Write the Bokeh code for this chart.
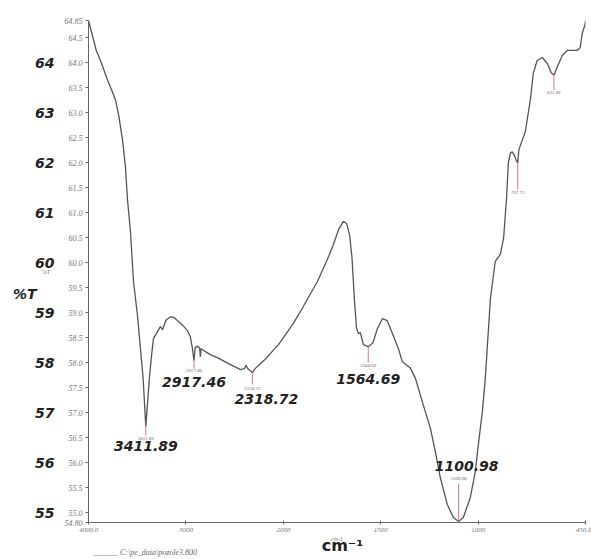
import numpy as np
from bokeh.plotting import figure
from bokeh.models import FixedTicker, LinearAxis, Range1d, CustomJSTickFormatter, ColumnDataSource
from bokeh.embed import file_html
from bokeh.resources import INLINE
from bokeh.core.properties import value

# ---------------- data ----------------
wavenumber = [4000, 3960, 3920, 3877, 3840, 3805, 3760, 3723, 3690, 3651, 3621, 3600,
              3569, 3538, 3497, 3467, 3440, 3411.89, 3375, 3350, 3333, 3292, 3262,
              3240, 3205, 3159, 3120, 3085, 3030, 2985, 2955, 2935, 2917.46, 2905,
              2880, 2860, 2852, 2845, 2800, 2750, 2677, 2600, 2544, 2480, 2441, 2400,
              2385, 2365, 2340, 2318.72, 2290, 2236, 2170, 2103, 2050, 2000, 1950,
              1913, 1870, 1826, 1774, 1745, 1715, 1692, 1675, 1660, 1648, 1636, 1625,
              1615, 1605, 1590, 1564.69, 1540, 1518, 1492, 1467, 1436, 1410, 1390,
              1370, 1350, 1323, 1282, 1246, 1221, 1195, 1159, 1128, 1100.98, 1077,
              1041, 1015, 1000, 979, 964, 938, 913, 887, 870, 855, 846, 835, 826,
              815, 805, 797.72, 792, 774, 759, 733, 718, 698, 672, 646, 625, 611.96,
              595, 569, 544, 492, 477, 467, 451, 450]
transmittance = [64.85, 64.55, 64.25, 64.05, 63.85, 63.66, 63.45, 63.26, 62.95, 62.46, 61.92, 61.27,
                 60.61, 59.62, 58.94, 58.28, 57.70, 56.72, 57.70, 58.20, 58.48, 58.62, 58.72,
                 58.66, 58.85, 58.92, 58.90, 58.84, 58.74, 58.64, 58.52, 58.30, 58.04, 58.30,
                 58.33, 58.30, 58.12, 58.28, 58.22, 58.16, 58.10, 58.02, 57.96, 57.90, 57.86, 57.88,
                 57.95, 57.88, 57.84, 57.80, 57.88, 57.98, 58.10, 58.25, 58.36, 58.50, 58.78,
                 59.02, 59.32, 59.62, 60.07, 60.35, 60.68, 60.83, 60.78, 60.55, 60.10, 59.28, 58.70,
                 58.58, 58.60, 58.36, 58.32, 58.40, 58.68, 58.88, 58.84, 58.54, 58.28, 58.02,
                 57.96, 57.90, 57.69, 57.15, 56.69, 56.23, 55.70, 55.16, 54.90, 54.82, 54.90,
                 55.30, 55.83, 56.35, 57.03, 57.69, 59.28, 60.03, 60.17, 60.50, 61.30, 62.00, 62.20, 62.22,
                 62.15, 62.05, 62.00, 62.26, 62.46, 62.62, 63.26, 63.79, 64.05, 64.11, 63.99, 63.80, 63.76,
                 63.92, 64.15, 64.25, 64.25, 64.31, 64.59, 64.79, 64.85]

peak_wn = [3411.89, 2917.46, 2318.72, 1564.69, 1100.98, 797.72, 611.96]
peak_T = [56.72, 58.04, 57.80, 58.32, 54.82, 62.00, 63.76]
peak_small_text = ["3411.89", "2917.46", "2318.72", "1564.69", "1100.98", "797.72", "611.96"]
peak_big_text = ["3411.89", "2917.46", "2318.72", "1564.69", "1100.98", "", ""]

x_tick_wn = [4000, 3000, 2000, 1500, 1000, 450]
x_tick_text = ["4000.0", "3000", "2000", "1500", "1000", "450.0"]
y_big_ticks = [55, 56, 57, 58, 59, 60, 61, 62, 63, 64]
y_small_ticks = [54.80, 55.0, 55.5, 56.0, 56.5, 57.0, 57.5, 58.0, 58.5, 59.0, 59.5, 60.0,
                 60.5, 61.0, 61.5, 62.0, 62.5, 63.0, 63.5, 64.0, 64.5, 64.85]
y_title = "%T"
y_title_small = "%T"
x_title = "cm⁻¹"
x_title_small = "cm-1"
legend_text = "______  C:\\pe_data\\pozole3.800"

# ---------------- layout / style ----------------
line_px = [9, 8, 12, 16, -38, 27, 15]
small_px = [12, 10, 16, 19, -43, 30, 18]
big_px = [20, 21, 27, 33, -56, 0, 0]
big_dx = [0, 0, 14, 0, 8, 0, 0]

X0, X1 = 4000, 450
Y0, Y1 = 54.80, 64.85
FRAME_W, FRAME_H = 497, 505
PX_PER_Y = FRAME_H / (Y1 - Y0)


def to_u(w):
    w = np.asarray(w, dtype=float)
    return np.where(w >= 2000, 4000 - w, 2000 + 2 * (2000 - w))


U_MAX = float(to_u([X1])[0])
PX_PER_U = FRAME_W / U_MAX

p = figure(width=591, height=559, output_backend="svg", toolbar_location=None,
           x_range=Range1d(0, U_MAX), y_range=Range1d(Y0, Y1),
           min_border_left=88, min_border_right=6, min_border_top=20, min_border_bottom=34)
p.grid.visible = False
p.outline_line_color = None
p.background_fill_color = "white"
p.border_fill_color = "white"

# curve
p.line(to_u(wavenumber), transmittance, line_color="#555555", line_width=1.3)

# peak markers
pu = to_u(peak_wn)
pT = np.asarray(peak_T)
p.segment(x0=pu, y0=pT, x1=pu, y1=pT - np.asarray(line_px) / PX_PER_Y,
          line_color="#e8707a", line_width=1)

small_src = ColumnDataSource(dict(x=pu, y=pT - np.asarray(small_px) / PX_PER_Y, t=peak_small_text))
p.text(x="x", y="y", text="t", source=small_src, text_font=value("Liberation Serif"),
       text_font_style="italic", text_font_size="5px", text_color="#666666",
       text_align="center", text_baseline="middle")

bx, by, bt = [], [], []
for i, t in enumerate(peak_big_text):
    if t:
        bx.append(pu[i] + big_dx[i] / PX_PER_U)
        by.append(pT[i] - big_px[i] / PX_PER_Y)
        bt.append(t)
big_src = ColumnDataSource(dict(x=bx, y=by, t=bt))
p.text(x="x", y="y", text="t", source=big_src, text_font=value("DejaVu Sans"),
       text_font_style="bold italic", text_font_size="14px", text_color="#222222",
       text_align="center", text_baseline="middle")


def label_axis(text, tick, font, style, size, color, standoff):
    ax = LinearAxis(ticker=FixedTicker(ticks=[tick]),
                    formatter=CustomJSTickFormatter(args=dict(s=text), code="return s;"))
    ax.axis_line_color = None
    ax.major_tick_line_color = None
    ax.minor_tick_line_color = None
    ax.major_tick_in = 0
    ax.major_tick_out = 0
    ax.major_label_text_font = font
    ax.major_label_text_font_style = style
    ax.major_label_text_font_size = size
    ax.major_label_text_color = color
    ax.major_label_standoff = standoff
    return ax


# x axis
xa = p.xaxis[0]
xt = [int(v) for v in to_u(x_tick_wn)]
xa.ticker = FixedTicker(ticks=xt)
xa.major_label_overrides = {k: s for k, s in zip(xt, x_tick_text)}
xa.minor_tick_line_color = None
xa.major_tick_in = 2
xa.major_tick_out = 2
xa.axis_line_color = "#666666"
xa.major_tick_line_color = "#666666"
xa.major_label_text_font = "Liberation Serif"
xa.major_label_text_font_style = "italic"
xa.major_label_text_font_size = "7px"
xa.major_label_text_color = "#777777"
xa.major_label_standoff = 3
xa.axis_label = x_title_small
xa.axis_label_text_font = "Liberation Serif"
xa.axis_label_text_font_style = "italic"
xa.axis_label_text_font_size = "6px"
xa.axis_label_text_color = "#777777"
xa.axis_label_standoff = 1

# big cm-1 and legend rows below
x_title_u = 254 / PX_PER_U
legend_u = 58 / PX_PER_U
p.add_layout(label_axis(x_title, x_title_u, "DejaVu Sans", "bold", "16px", "#222222", -9), "below")
p.add_layout(label_axis(legend_text, legend_u, "Liberation Serif", "italic", "8px", "#666666", -10), "below")

# inner y axis (small labels)
ya = p.yaxis[0]
ya.ticker = FixedTicker(ticks=y_small_ticks)
ya.formatter = CustomJSTickFormatter(code="""
    if (Math.abs(tick - 54.8) < 1e-6) return "54.80";
    if (Math.abs(tick - 64.85) < 1e-6) return "64.85";
    return tick.toFixed(1);
""")
ya.minor_tick_line_color = None
ya.major_tick_in = 0
ya.major_tick_out = 3
ya.axis_line_color = "#666666"
ya.major_tick_line_color = "#666666"
ya.major_label_text_font = "Liberation Serif"
ya.major_label_text_font_style = "italic"
ya.major_label_text_font_size = "8px"
ya.major_label_text_color = "#777777"
ya.major_label_standoff = 3

# outer y axis (big labels) with small %T as its label
yb = LinearAxis(ticker=FixedTicker(ticks=y_big_ticks))
yb.axis_line_color = None
yb.major_tick_line_color = None
yb.minor_tick_line_color = None
yb.major_tick_in = 0
yb.major_tick_out = 0
yb.major_label_text_font = "DejaVu Sans"
yb.major_label_text_font_style = "bold italic"
yb.major_label_text_font_size = "14px"
yb.major_label_text_color = "#222222"
yb.major_label_standoff = 7
yb.axis_label = y_title_small
yb.axis_label_orientation = "horizontal"
yb.axis_label_text_font = "Liberation Serif"
yb.axis_label_text_font_style = "italic"
yb.axis_label_text_font_size = "6px"
yb.axis_label_text_color = "#777777"
yb.axis_label_standoff = -18
p.add_layout(yb, "left")

# big %T
y_title_T = Y1 - 275 / PX_PER_Y
p.add_layout(label_axis(y_title, y_title_T, "DejaVu Sans", "bold italic", "14px", "#222222", 2), "left")

open("out.html", "w").write(file_html(p, INLINE))
